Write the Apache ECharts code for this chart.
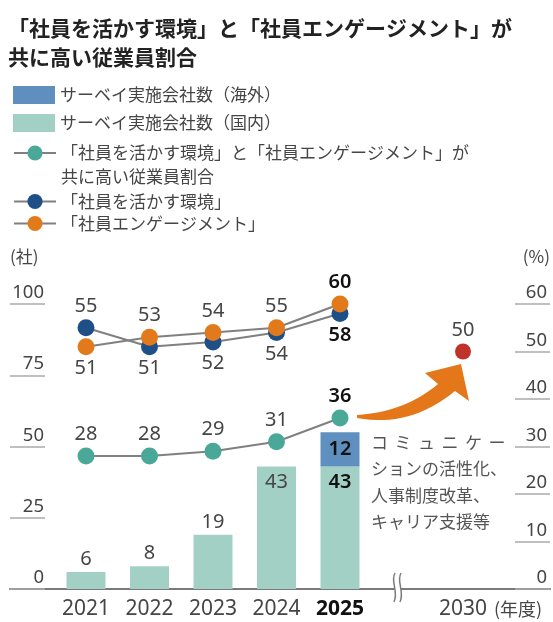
<!DOCTYPE html>
<html>
<head>
<meta charset="utf-8">
<script src="https://cdn.jsdelivr.net/npm/echarts@6/dist/echarts.min.js"></script>
<style>
html,body{margin:0;padding:0;background:#fff;}
#chart{width:553px;height:622px;}
</style>
</head>
<body>
<div id="chart"></div>
<script>
// ---- data ----
const years = ['2021', '2022', '2023', '2024', '2025'];
const targetYears = ['2030'];
const domestic = [6, 8, 19, 43, 43];
const overseas = [null, null, null, null, 12];
const bothHigh = [28, 28, 29, 31, 36];
const environment = [55, 51, 52, 54, 58];
const engagement = [51, 53, 54, 55, 60];
const target = [50];
const leftTicks = { min: 0, max: 100, interval: 25 };
const rightTicks = { min: 0, max: 60, interval: 10 };

const nameOverseas = 'サーベイ実施会社数（海外）';
const nameDomestic = 'サーベイ実施会社数（国内）';
const nameBoth = '「社員を活かす環境」と「社員エンゲージメント」が\n共に高い従業員割合';
const nameEnv = '「社員を活かす環境」';
const nameEng = '「社員エンゲージメント」';

const FONT = "'Noto Sans', 'Noto Sans CJK JP', sans-serif";
const JP = "'Noto Sans CJK JP', sans-serif";
const last = years.length - 1;
const GRAY = '#454545';
const BOLD = '#111';

function lbl(i, pos, dist) {
  return {
    show: true, position: pos, distance: dist, fontSize: 20, fontFamily: FONT,
    color: i === last ? BOLD : GRAY, fontWeight: i === last ? 600 : 'normal'
  };
}

// quadratic bezier sampler for the decorative arrow outline
function quad(p0, c, p1, n) {
  const pts = [];
  for (let k = 0; k <= n; k++) {
    const t = k / n, u = 1 - t;
    pts.push([u * u * p0[0] + 2 * u * t * c[0] + t * t * p1[0], u * u * p0[1] + 2 * u * t * c[1] + t * t * p1[1]]);
  }
  return pts;
}
const arrowPts = [].concat(
  quad([357, 415], [405, 412], [438, 384], 16),
  [[425, 373], [461, 364], [469, 401]],
  quad([455, 391], [410, 428], [357, 418], 16)
);

const chart = echarts.init(document.getElementById('chart'), null, { renderer: 'canvas' });

const gTop = 304, gBottom = 33;

const option = {
  animation: false,
  backgroundColor: '#fff',
  textStyle: { fontFamily: FONT },
  title: {
    text: '「社員を活かす環境」と「社員エンゲージメント」が\n共に高い従業員割合',
    left: 8, top: 14, padding: 0,
    textStyle: { fontFamily: JP, fontSize: 21, fontWeight: 'bold', color: '#222', lineHeight: 29 }
  },
  legend: [
    {
      data: [nameOverseas, nameDomestic], orient: 'vertical', left: 13, top: 86, padding: 0,
      itemWidth: 42, itemHeight: 18, itemGap: 10, icon: 'rect', selectedMode: false,
      textStyle: { fontFamily: JP, fontSize: 17, color: GRAY }
    },
    {
      data: [nameBoth], orient: 'vertical', left: 13, top: 117, padding: 0,
      itemWidth: 42, itemHeight: 19, selectedMode: false,
      formatter: (n) => '\n' + n,
      textStyle: { fontFamily: JP, fontSize: 17, color: GRAY, lineHeight: 24 }
    },
    {
      data: [nameEnv, nameEng], orient: 'vertical', left: 13, top: 193, padding: 0,
      itemWidth: 42, itemHeight: 19, itemGap: 5, selectedMode: false,
      textStyle: { fontFamily: JP, fontSize: 17, color: GRAY }
    }
  ],
  grid: [
    { left: 10, right: 0, top: gTop, bottom: gBottom },
    { left: 54.25, width: 317.5, top: gTop, bottom: gBottom },
    { left: 433, width: 60, top: gTop, bottom: gBottom }
  ],
  xAxis: [
    {
      gridIndex: 0, type: 'category', data: [''],
      axisLine: { show: true, lineStyle: { color: '#7a7a7a', width: 2 } },
      axisTick: { show: false }, axisLabel: { show: false }, splitLine: { show: false }
    },
    {
      gridIndex: 1, type: 'category', data: years,
      axisLine: { show: false }, axisTick: { show: false },
      axisLabel: {
        interval: 0, fontSize: 21, color: GRAY, margin: 10, fontFamily: FONT,
        formatter: (v, i) => i === last ? '{b|' + v + '}' : v,
        rich: { b: { fontSize: 21, fontWeight: 'bold', color: BOLD, fontFamily: FONT } }
      }
    },
    {
      gridIndex: 2, type: 'category', data: targetYears,
      axisLine: { show: false }, axisTick: { show: false },
      axisLabel: { interval: 0, fontSize: 21, color: GRAY, margin: 10, fontFamily: FONT }
    }
  ],
  yAxis: [
    {
      gridIndex: 0, type: 'value', position: 'left', ...leftTicks,
      name: '(社)', nameLocation: 'end', nameGap: 47,
      nameTextStyle: { fontFamily: JP, fontSize: 17, color: GRAY, align: 'left', verticalAlign: 'middle' },
      axisLine: { show: false },
      axisTick: { show: true, inside: true, length: 35, lineStyle: { color: '#aaaaaa', width: 1.5 } },
      axisLabel: { inside: true, margin: 34, align: 'right', verticalAlign: 'bottom', padding: [0, 0, 2, 0], fontSize: 18.5, color: GRAY },
      splitLine: { show: false }
    },
    {
      gridIndex: 0, type: 'value', position: 'right', ...rightTicks,
      name: '(%)', nameLocation: 'end', nameGap: 47,
      nameTextStyle: { fontFamily: JP, fontSize: 17, color: GRAY, align: 'right', verticalAlign: 'middle' },
      axisLine: { show: false },
      axisTick: { show: true, inside: true, length: 35, lineStyle: { color: '#aaaaaa', width: 1.5 } },
      axisLabel: { inside: true, margin: 3, align: 'right', verticalAlign: 'bottom', padding: [0, 0, 2, 0], fontSize: 18.5, color: GRAY },
      splitLine: { show: false }
    },
    { gridIndex: 1, type: 'value', ...leftTicks, show: false, splitLine: { show: false } },
    { gridIndex: 1, type: 'value', ...rightTicks, show: false, splitLine: { show: false } },
    { gridIndex: 2, type: 'value', ...rightTicks, show: false, splitLine: { show: false } }
  ],
  series: [
    {
      name: nameDomestic, type: 'bar', xAxisIndex: 1, yAxisIndex: 2, stack: 'companies',
      barWidth: 39, itemStyle: { color: '#a3d0c4' },
      data: domestic.map((v, i) => ({
        value: v,
        label: lbl(i, v >= 40 ? 'insideTop' : 'top', v >= 40 ? 6 : 3)
      }))
    },
    {
      name: nameOverseas, type: 'bar', xAxisIndex: 1, yAxisIndex: 2, stack: 'companies',
      barWidth: 39, itemStyle: { color: '#5f8fbf' },
      data: overseas.map((v, i) => ({ value: v, label: lbl(i, 'inside', 0) }))
    },
    {
      name: nameBoth, type: 'line', xAxisIndex: 1, yAxisIndex: 3,
      symbol: 'circle', symbolSize: 17,
      lineStyle: { color: '#808080', width: 2 }, itemStyle: { color: '#4aa898' },
      data: bothHigh.map((v, i) => ({ value: v, label: lbl(i, 'top', 3) }))
    },
    {
      name: nameEnv, type: 'line', xAxisIndex: 1, yAxisIndex: 3,
      symbol: 'circle', symbolSize: 17,
      lineStyle: { color: '#808080', width: 2 }, itemStyle: { color: '#1f4f87' },
      data: environment.map((v, i) => ({ value: v, label: lbl(i, v > engagement[i] ? 'top' : 'bottom', 3) }))
    },
    {
      name: nameEng, type: 'line', xAxisIndex: 1, yAxisIndex: 3,
      symbol: 'circle', symbolSize: 17,
      lineStyle: { color: '#808080', width: 2 }, itemStyle: { color: '#e27a1c' },
      data: engagement.map((v, i) => ({ value: v, label: lbl(i, v >= environment[i] ? 'top' : 'bottom', 3) }))
    },
    {
      name: '2030年目標', type: 'line', xAxisIndex: 2, yAxisIndex: 4,
      symbol: 'circle', symbolSize: 16, itemStyle: { color: '#c0332b' },
      label: { show: true, position: 'top', distance: 3, fontSize: 20, color: GRAY },
      data: target
    }
  ],
  graphic: [
    {
      type: 'text', x: 371, y: 429,
      style: {
        text: '{s|コ}{s|ミ}{s|ュ}{s|ニ}{s|ケ}{s|ー}\nションの活性化、\n人事制度改革、\nキャリア支援等',
        fontFamily: JP, fontSize: 17, lineHeight: 26.5, fill: '#555',
        rich: { s: { width: 23.5, fontFamily: JP, fontSize: 17, lineHeight: 26.5, fill: '#555' } }
      }
    },
    {
      type: 'polygon', z: 10,
      shape: { points: arrowPts },
      style: { fill: '#e3771a' }
    },
    { type: 'rect', z: 20, shape: { x: 395, y: 584, width: 6, height: 10 }, style: { fill: '#fff' } },
    {
      type: 'bezierCurve', z: 21,
      shape: { x1: 395, y1: 573, cpx1: 390, cpy1: 582, cpx2: 399, cpy2: 591, x2: 394, y2: 602 },
      style: { stroke: '#7a7a7a', lineWidth: 1.5, fill: 'none' }
    },
    {
      type: 'bezierCurve', z: 21,
      shape: { x1: 401, y1: 573, cpx1: 396, cpy1: 582, cpx2: 405, cpy2: 591, x2: 400, y2: 602 },
      style: { stroke: '#7a7a7a', lineWidth: 1.5, fill: 'none' }
    },
    {
      type: 'text', x: 494, y: 600,
      style: { text: '(年度)', fontFamily: JP, fontSize: 18, fill: GRAY }
    }
  ]
};
chart.setOption(option);
</script>
</body>
</html>
